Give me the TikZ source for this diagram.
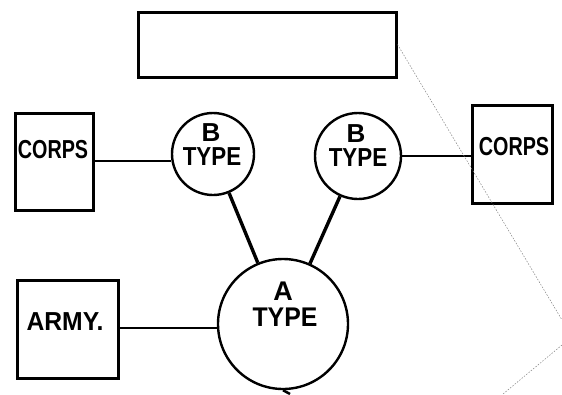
\documentclass[tikz,border=0pt]{standalone}
\usepackage{fontspec}
\setmainfont{Liberation Sans}
\begin{document}
\begin{tikzpicture}[x=1pt,y=-1pt,
  boxst/.style={draw,line width=3pt,inner sep=0pt},
  circst/.style={draw,circle,line width=2.4pt,inner sep=0pt},
  link/.style={line width=2.5pt},
  thicklink/.style={line width=3.4pt},
  lbl/.style={inner sep=0pt,font=\fontsize{26}{26}\selectfont\bfseries},
  guide/.style={gray,line width=0.5pt,dash pattern=on 1.5pt off 1.5pt}]
\useasboundingbox (0,0) rectangle (562,394);
% boxes
\node[boxst,minimum width=258pt,minimum height=65pt] (top) at (267,44.5) {};
\node[boxst,minimum width=78pt,minimum height=97pt] (lc) at (54,161.5) {};
\node[boxst,minimum width=80pt,minimum height=98pt] (rc) at (512,154) {};
\node[boxst,minimum width=101pt,minimum height=98pt] (army) at (67.5,329) {};
% circles
\node[circst,minimum size=82pt] (bl) at (213,154) {};
\node[circst,minimum size=86pt] (br) at (358,156) {};
\node[circst,minimum size=130pt] (a) at (283,324) {};
% labels
\node[lbl] (lct) at (53,150) {\scalebox{0.76}[1]{CORPS}};
\node[lbl] (rct) at (514,147) {\scalebox{0.76}[1]{CORPS}};
\node[lbl] (armyt) at (65,322) {\scalebox{0.95}[1]{ARMY.}};
\node[lbl] (blb) at (211,133) {B};
\node[lbl] (blt) at (212,157) {\scalebox{0.86}[1]{TYPE}};
\node[lbl] (brb) at (356,134) {B};
\node[lbl] (brt) at (358,158) {\scalebox{0.86}[1]{TYPE}};
\node[lbl,font=\fontsize{27}{27}\selectfont\bfseries] (aa) at (283,291) {A};
\node[lbl,font=\fontsize{27}{27}\selectfont\bfseries] (at) at (285,317) {\scalebox{0.92}[1]{TYPE}};
% connectors
\draw[link] (lc.east |- 0,161) -- (bl.west |- 0,161);
\draw[link] (br.east) -- (rc.west |- br.east);
\draw[link] (army.east |- 0,328) -- (a.west |- 0,328);
\draw[thicklink] (bl) -- (a);
\draw[thicklink] (br) -- (a);
\coordinate (abot) at (290,394);
\draw[link] (a.south) -- (abot);
% dotted guide lines
\coordinate (g1) at (562,320);
\coordinate (g2) at (562,345);
\coordinate (g3) at (503,394);
\draw[guide] (top.east) -- (g1);
\draw[guide] (g2) -- (g3);
\end{tikzpicture}
\end{document}
